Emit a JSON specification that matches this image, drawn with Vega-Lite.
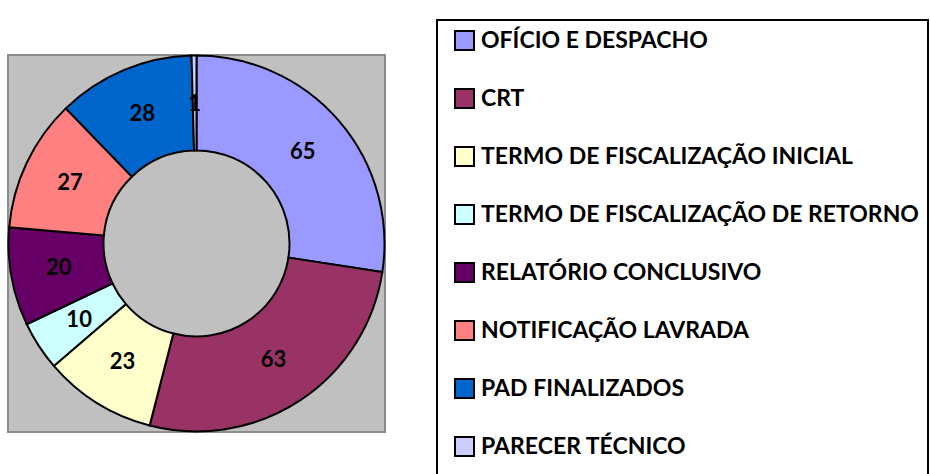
{
  "$schema": "https://vega.github.io/schema/vega-lite/v6.json",
  "width": 377,
  "height": 377,
  "autosize": "none",
  "padding": {"left": 8, "top": 55, "right": 545, "bottom": 42},
  "background": "white",
  "view": {"fill": "#C0C0C0", "stroke": "#8C8C8C", "strokeWidth": 2},
  "config": {
    "legend": {"strokeWidth": 2}
  },
  "data": {
    "values": [
      {"idx": 1, "categoria": "OFÍCIO E DESPACHO", "valor": 65},
      {"idx": 2, "categoria": "CRT", "valor": 63},
      {"idx": 3, "categoria": "TERMO DE FISCALIZAÇÃO INICIAL", "valor": 23},
      {"idx": 4, "categoria": "TERMO DE FISCALIZAÇÃO DE RETORNO", "valor": 10},
      {"idx": 5, "categoria": "RELATÓRIO CONCLUSIVO", "valor": 20},
      {"idx": 6, "categoria": "NOTIFICAÇÃO LAVRADA", "valor": 27},
      {"idx": 7, "categoria": "PAD FINALIZADOS", "valor": 28},
      {"idx": 8, "categoria": "PARECER TÉCNICO", "valor": 1}
    ]
  },
  "encoding": {
    "theta": {"field": "valor", "type": "quantitative", "stack": true},
    "order": {"field": "idx", "type": "quantitative"}
  },
  "layer": [
    {
      "mark": {"type": "arc", "outerRadius": 188, "innerRadius": 93, "stroke": "black", "strokeWidth": 2},
      "encoding": {
        "color": {
          "field": "categoria",
          "type": "nominal",
          "scale": {
            "domain": ["OFÍCIO E DESPACHO", "CRT", "TERMO DE FISCALIZAÇÃO INICIAL", "TERMO DE FISCALIZAÇÃO DE RETORNO", "RELATÓRIO CONCLUSIVO", "NOTIFICAÇÃO LAVRADA", "PAD FINALIZADOS", "PARECER TÉCNICO"],
            "range": ["#9999FF", "#993366", "#FFFFCC", "#CCFFFF", "#660066", "#FF8080", "#0066CC", "#CCCCFF"]
          },
          "legend": {
            "title": " ",
            "titleOrient": "bottom",
            "titleFontSize": 20,
            "titlePadding": 10,
            "orient": "none",
            "legendX": 429,
            "legendY": -35,
            "fillColor": "white",
            "strokeColor": "black",
            "padding": 9,
            "symbolOffset": 7,
            "symbolType": "square",
            "symbolSize": 361,
            "symbolStrokeColor": "black",
            "symbolStrokeWidth": 2,
            "symbolOpacity": 1,
            "labelFont": "Lato",
            "labelFontWeight": "bold",
            "labelFontSize": 23,
            "labelColor": "black",
            "labelLimit": 600,
            "labelOffset": 5,
            "rowPadding": 31
          }
        }
      }
    },
    {
      "mark": {"type": "text", "radius": 140, "font": "Lato", "fontWeight": "bold", "fontSize": 22, "color": "black"},
      "encoding": {
        "text": {"field": "valor", "type": "quantitative"}
      }
    }
  ]
}
